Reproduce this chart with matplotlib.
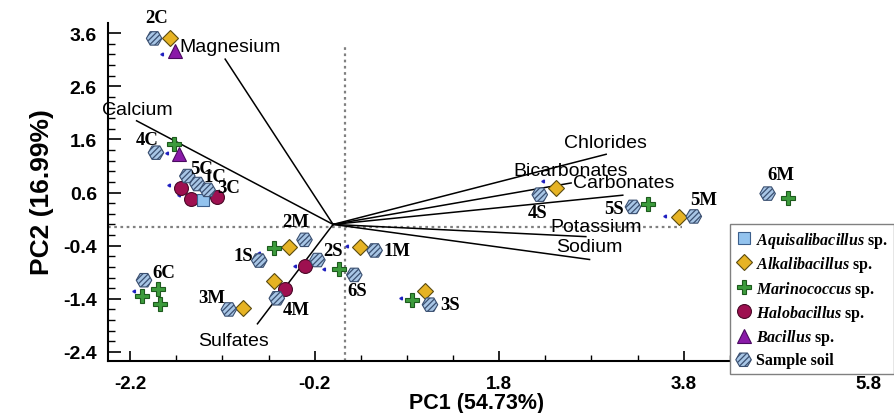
import matplotlib
matplotlib.use("Agg")
import matplotlib.pyplot as plt
import numpy as np

plt.rcParams['mathtext.fontset'] = 'custom'
plt.rcParams['mathtext.it'] = 'Liberation Serif:italic:bold'
plt.rcParams['mathtext.rm'] = 'Liberation Serif:bold'
plt.rcParams['hatch.color'] = 'white'
plt.rcParams['hatch.linewidth'] = 0.9

# loadings (end points of the vectors) and label positions
loading_names = ['Magnesium', 'Calcium', 'Sulfates', 'Chlorides', 'Bicarbonates',
                 'Carbonates', 'Potassium', 'Sodium']
loading_x = [-1.17, -2.13, -0.82, 2.96, 2.58, 3.14, 2.74, 2.78]
loading_y = [3.11, 1.95, -1.87, 1.32, 0.78, 0.55, -0.23, -0.66]
loading_lab_x = [-1.67, -2.51, -1.08, 2.95, 2.58, 3.15, 2.85, 2.78]
loading_lab_y = [3.35, 2.16, -2.18, 1.54, 1.01, 0.79, -0.04, -0.42]

# sample soil scores
samples = ['2C', '4C', '5C', '1C', '3C', '2M', '1S', '2S', '1M', '6S', '4M', '3M',
           '6C', '3S', '4S', '5S', '5M', '6M']
soil_x = [-1.94, -1.92, -1.58, -1.47, -1.36, -0.31, -0.80, -0.17, 0.45, 0.23, -0.61,
          -1.13, -2.05, 1.05, 2.24, 3.25, 3.91, 4.71]
soil_y = [3.50, 1.35, 0.91, 0.76, 0.65, -0.29, -0.68, -0.67, -0.49, -0.95, -1.39,
          -1.60, -1.05, -1.51, 0.56, 0.33, 0.15, 0.58]
sample_lab_x = [-1.91, -2.02, -1.42, -1.28, -1.13, -0.41, -0.97, 0.00, 0.69, 0.26,
                -0.40, -1.31, -1.83, 1.27, 2.22, 3.05, 4.02, 4.85]
sample_lab_y = [3.90, 1.59, 1.06, 0.90, 0.70, 0.05, -0.59, -0.49, -0.49, -1.24,
                -1.60, -1.38, -0.90, -1.50, 0.23, 0.30, 0.46, 0.93]

# bacteria
aqui_x = [-1.41]
aqui_y = [0.46]
alka_x = [-1.77, -0.48, 0.29, -0.64, -0.98, 1.00, 2.42, 3.75]
alka_y = [3.50, -0.43, -0.43, -1.07, -1.58, -1.25, 0.68, 0.14]
mari_x = [-1.72, -0.64, 0.06, -1.90, -2.07, -1.88, 0.86, 3.41, 4.93]
mari_y = [1.52, -0.45, -0.84, -1.22, -1.34, -1.50, -1.42, 0.39, 0.49]
halo_x = [-1.65, -1.54, -1.26, -0.30, -0.52]
halo_y = [0.68, 0.48, 0.51, -0.78, -1.21]
baci_x = [-1.71, -1.67]
baci_y = [3.27, 1.33]

# tiny blue specks next to the groups
speck_x = [-1.85, -1.80, -1.78, -1.67, -0.80, -0.41, -0.10, 0.15, 0.74, 2.28, 3.60, -2.16]
speck_y = [3.20, 1.35, 0.74, 0.55, -0.53, -0.79, -0.83, -0.40, -1.39, 0.82, 0.16, -1.26]

fig = plt.figure(figsize=(8.94, 4.14), dpi=100)
ax = fig.add_axes([108 / 894, 52 / 414, 786 / 894, 338 / 414])
ax.set_xlim(-2.44, 6.08)
ax.set_ylim(-2.57, 3.79)

ax.axhline(-0.05, color='#808080', ls=(0, (1.2, 1.6)), lw=1.6, xmax=0.73, zorder=1)
ax.plot([0.13, 0.13], [-2.57, 3.36], color='#808080', ls=(0, (1.2, 1.6)), lw=1.6, zorder=1)

for i in range(len(loading_names)):
    ax.plot([0, loading_x[i]], [0, loading_y[i]], color='black', lw=1.1, zorder=2)
    ax.text(loading_lab_x[i], loading_lab_y[i], loading_names[i], fontsize=14,
            family='Liberation Sans', ha='left' if i < 2 else 'center', va='center',
            zorder=6, clip_on=False)

ax.plot(speck_x, speck_y, ls='none', marker=(3, 0, 90), ms=2.5, color='#2020c0', zorder=3)

ax.plot(alka_x, alka_y, ls='none', marker='D', ms=8, mfc='#e6b324', mec='#5a4a10',
        mew=0.8, zorder=3, label=r'$\mathit{Alkalibacillus}$ sp.')
ax.plot(mari_x, mari_y, ls='none', marker='P', ms=10, mfc='#3c9b3c', mec='#1d5a1d',
        mew=0.8, zorder=3, label=r'$\mathit{Marinococcus}$ sp.')
ax.plot(halo_x, halo_y, ls='none', marker='o', ms=10, mfc='#9e1050', mec='#4a0a28',
        mew=0.8, zorder=3, label=r'$\mathit{Halobacillus}$ sp.')
ax.plot(aqui_x, aqui_y, ls='none', marker='s', ms=8.5, mfc='#93c3ee', mec='#3c5f8c',
        mew=0.8, zorder=3, label=r'$\mathit{Aquisalibacillus}$ sp.')
ax.plot(baci_x, baci_y, ls='none', marker='^', ms=9.5, mfc='#8a1aa8', mec='#4a0a60',
        mew=0.8, zorder=3, label=r'$\mathit{Bacillus}$ sp.')
soil = ax.scatter(soil_x, soil_y, s=125, marker='H', facecolor='#a8c6e6',
                  edgecolor='#3a4f70', linewidths=0.8, hatch='//////', zorder=4,
                  label='Sample soil')

for i in range(len(samples)):
    ax.text(sample_lab_x[i], sample_lab_y[i], samples[i], fontsize=13.5,
            family='Liberation Serif', weight='bold', ha='center', va='center',
            zorder=6, clip_on=False)

ax.spines['top'].set_visible(False)
ax.spines['right'].set_visible(False)
ax.spines['left'].set_linewidth(1.5)
ax.spines['bottom'].set_linewidth(1.5)

ax.set_xticks(np.arange(-2.2, 6.0, 2.0))
ax.set_xticks(np.arange(-2.2, 6.0, 0.5), minor=True)
ax.set_yticks(np.arange(3.6, -2.5, -1.0))
ax.set_yticks(np.arange(3.6, -2.5, -0.2), minor=True)
ax.set_xticklabels(['-2.2', '-0.2', '1.8', '3.8', '5.8'])
ax.set_yticklabels(['3.6', '2.6', '1.6', '0.6', '-0.4', '-1.4', '-2.4'])
ax.tick_params(axis='x', which='major', direction='in', length=7, width=1.2, pad=10,
               labelsize=13.5)
ax.tick_params(axis='x', which='minor', direction='in', length=4, width=1.0)
ax.tick_params(axis='y', which='major', direction='in', length=9, width=1.2, pad=8,
               labelsize=14)
ax.tick_params(axis='y', which='minor', direction='in', length=5, width=1.0)
for t in ax.get_xticklabels():
    t.set_family('Liberation Sans')
    t.set_weight('bold')
for t in ax.get_yticklabels():
    t.set_family('Liberation Sans')
    t.set_weight('bold')

fig.text(477 / 894, 1 - 404 / 414, 'PC1 (54.73%)', fontsize=15.5, weight='bold',
         family='Liberation Sans', ha='center', va='center')
fig.text(42 / 894, 1 - 192 / 414, 'PC2 (16.99%)', fontsize=19, weight='bold',
         family='Liberation Sans', rotation=90, ha='center', va='center')

handles, labels = ax.get_legend_handles_labels()
order = [3, 0, 1, 2, 4, 5]
leg = ax.legend([handles[i] for i in order], [labels[i] for i in order],
                loc='upper left', bbox_to_anchor=(730 / 894, 1 - 225 / 414),
                bbox_transform=fig.transFigure, frameon=True, fancybox=False,
                edgecolor='#808080', framealpha=1, borderpad=0.35, labelspacing=0.28,
                handletextpad=0.3, handlelength=1.0, borderaxespad=0,
                prop={'family': 'Liberation Serif', 'weight': 'bold', 'size': 11.5})
leg.set_zorder(7)

fig.savefig('out.png', dpi=100)
